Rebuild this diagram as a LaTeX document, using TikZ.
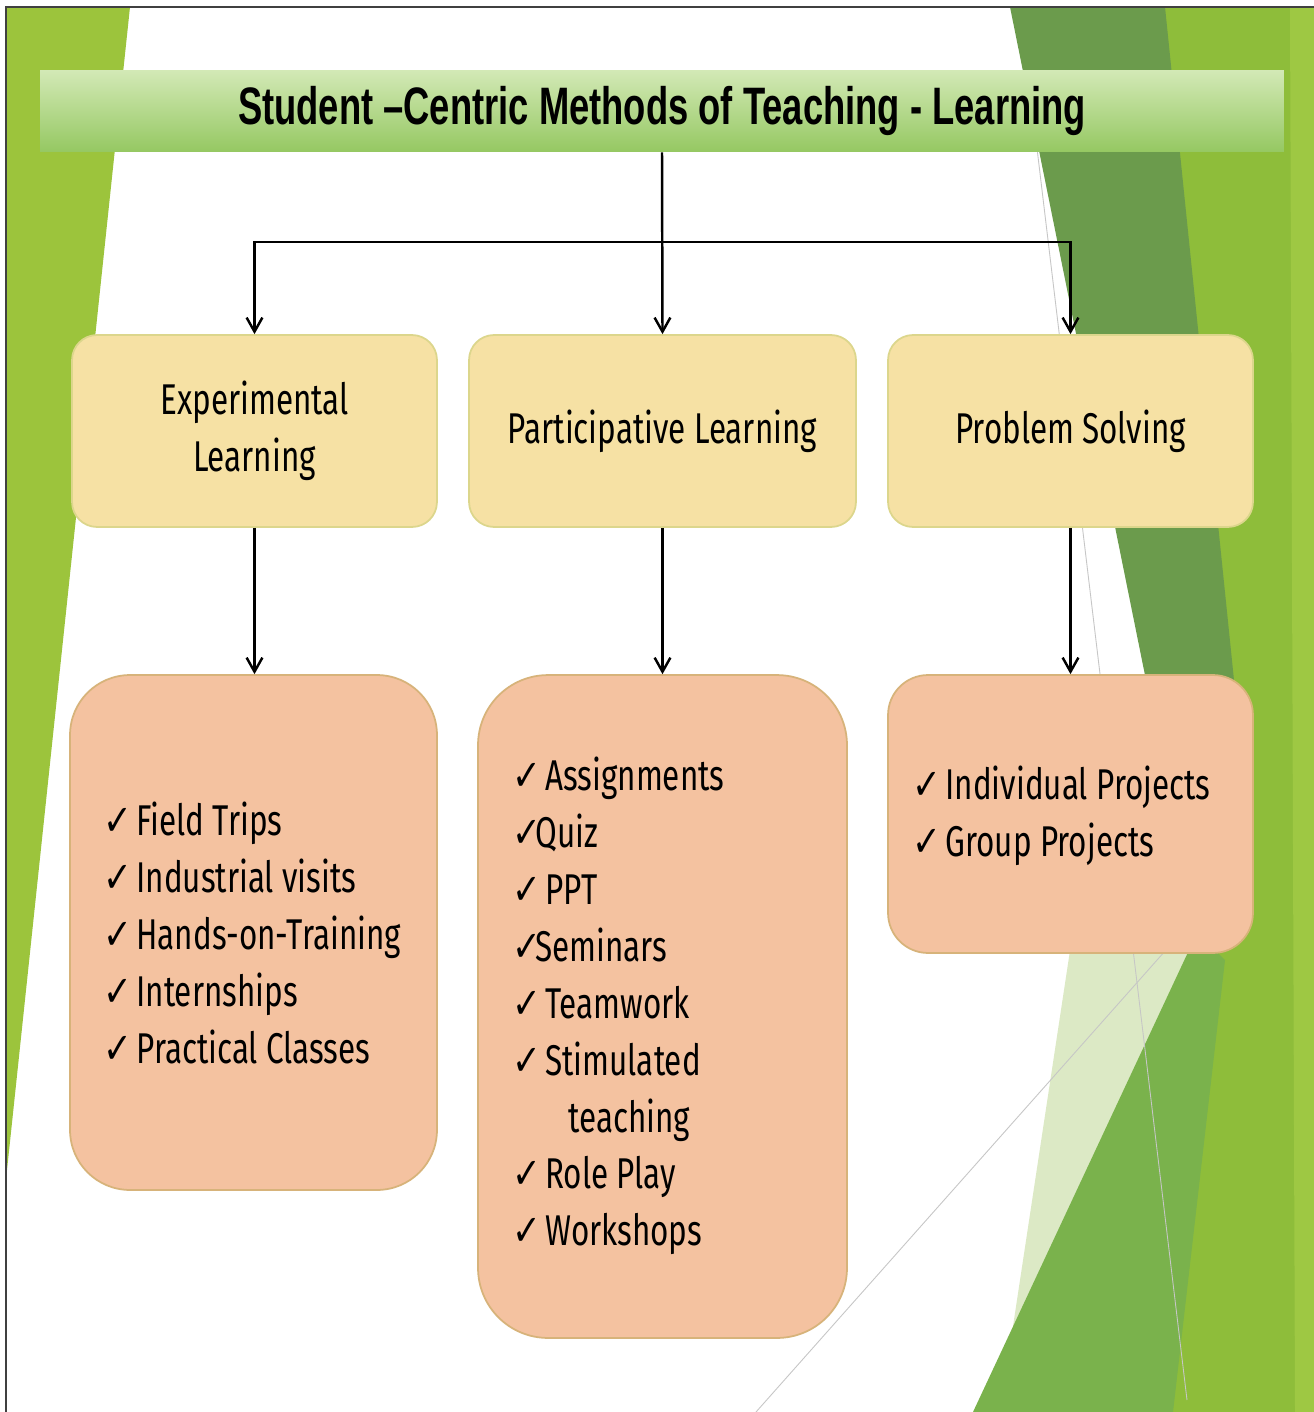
\documentclass[tikz,border=0pt]{standalone}
\usepackage{fontspec}
\usepackage{graphicx}
\usetikzlibrary{arrows.meta}
\newfontfamily\titlefont[FakeStretch=0.69]{Liberation Sans}
\newfontfamily\bodyfont[FakeStretch=0.73]{Fira Sans}
\newfontfamily\symfont[FakeStretch=0.8]{DejaVu Sans}
\definecolor{leftg}{HTML}{9CC43C}
\definecolor{brightg}{HTML}{8EBD3A}
\definecolor{brightg2}{HTML}{9EC843}
\definecolor{darkg}{HTML}{6B9B4C}
\definecolor{medg}{HTML}{7AB24C}
\definecolor{paleg}{HTML}{DCE9C5}
\definecolor{framecol}{HTML}{404040}
\definecolor{yfill}{HTML}{F6E1A4}
\definecolor{yline}{HTML}{DCD68C}
\definecolor{sfill}{HTML}{F4C2A0}
\definecolor{sline}{HTML}{D7B37A}
\definecolor{titletop}{HTML}{D3E9B6}
\definecolor{titlebot}{HTML}{95C862}
\newcommand{\ckmark}{\makebox[0.66cm][l]{\symfont ✓}}
\newcommand{\ckmarkn}{\makebox[0.46cm][l]{\symfont ✓}}
\begin{document}
\begin{tikzpicture}[x=0.02cm,y=-0.02cm,
  lvlone/.style={draw=yline, fill=yfill, line width=1pt, rounded corners=0.5cm,
    minimum height=3.84cm, align=center, inner sep=0pt,
    font=\bodyfont\fontsize{24.5}{32.4}\selectfont},
  lvltwo/.style={draw=sline, fill=sfill, line width=1pt, inner sep=0pt},
  listtext/.style={anchor=west, align=left, inner sep=0pt,
    font=\bodyfont\fontsize{24.5}{32.4}\selectfont},
  conn/.style={line width=1.4pt, -{Straight Barb[length=8pt,width=9pt]}},
  thinline/.style={line width=0.5pt, draw=gray!45}]
\useasboundingbox (0,0) rectangle (1314,1412);
\fill[white] (0,0) rectangle (1314,1412);
% background decoration
\fill[leftg] (7,7) -- (130,7) -- (7,1170) -- cycle;
\fill[brightg] (1160,7) -- (1314,7) -- (1314,1412) -- (1160,1412) -- cycle;
\fill[brightg2] (1290,7) -- (1314,7) -- (1314,1412) -- (1295,1412) -- cycle;
\fill[darkg] (1010,7) -- (1165,7) -- (1235,690) -- (1213,990) -- (1150,700) -- cycle;
\fill[paleg] (1108,700) -- (1150,700) -- (1213,990) -- (1000,1412) -- cycle;
\fill[medg] (1197,933) -- (1225,960) -- (1173,1412) -- (973,1412) -- cycle;
\draw[thinline] (1033,115) -- (1187,1400);
\draw[thinline] (756,1412) -- (1197,915);
\draw[framecol, line width=0.04cm] (6,1412) -- (6,7) -- (1314,7);
% title bar
\node[top color=titletop, bottom color=titlebot, minimum width=24.88cm,
  minimum height=1.64cm, inner sep=0pt,
  font=\titlefont\bfseries\fontsize{30}{36}\selectfont] (T) at (662,111)
  {Student –Centric Methods of Teaching - Learning};
% level one
\node[lvlone, minimum width=7.3cm] (A) at (254.5,431) {Experimental\\Learning};
\node[lvlone, minimum width=7.74cm] (B) at (662.5,431) {Participative Learning};
\node[lvlone, minimum width=7.3cm] (C) at (1070.5,431) {Problem Solving};
% level two
\node[lvltwo, rounded corners=1.2cm, minimum width=7.34cm, minimum height=10.3cm] (D) at (253.5,932.5) {};
\node[lvltwo, rounded corners=1.4cm, minimum width=7.38cm, minimum height=13.26cm] (E) at (662.5,1006.5) {};
\node[lvltwo, rounded corners=0.8cm, minimum width=7.3cm, minimum height=5.56cm] (F) at (1070.5,814) {};
\node[listtext] (Dt) at (103,933) {\ckmark Field Trips\\ \ckmark Industrial visits\\ \ckmark Hands-on-Training\\ \ckmark Internships\\ \ckmark Practical Classes};
\node[listtext] (Et) at (512,1006) {\ckmark Assignments\\ \ckmarkn Quiz\\ \ckmark PPT\\ \ckmarkn Seminars\\ \ckmark Teamwork\\ \ckmark Stimulated\\ \hspace*{1.12cm}teaching\\ \ckmark Role Play\\ \ckmark Workshops};
\node[listtext] (Ft) at (912,816) {\ckmark Individual Projects\\ \ckmark Group Projects};
% connectors
\coordinate (J) at (662,242);
\draw[conn] (T.south) -- (B.north);
\draw[conn] (J) -| (A.north);
\draw[conn] (J) -| (C.north);
\draw[conn] (A.south) -- (A.south |- D.north);
\draw[conn] (B.south) -- (B.south |- E.north);
\draw[conn] (C.south) -- (C.south |- F.north);
\end{tikzpicture}
\end{document}
